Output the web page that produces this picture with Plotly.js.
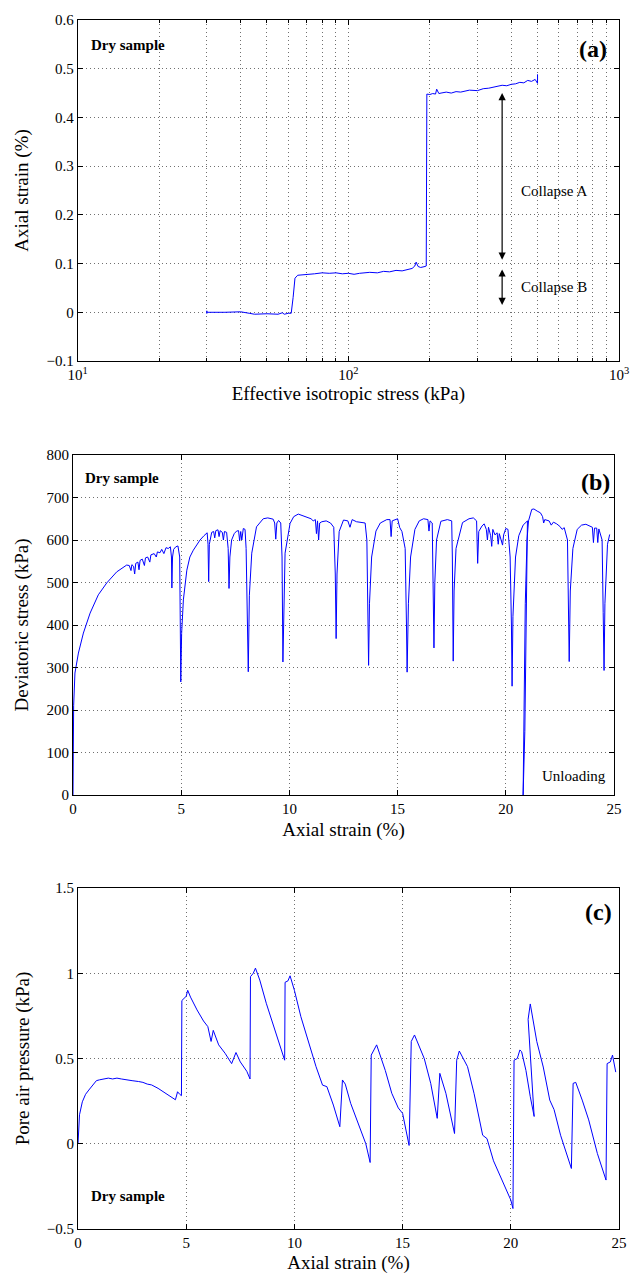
<!DOCTYPE html>
<html>
<head>
<meta charset="utf-8">
<script src="https://cdn.plot.ly/plotly-3.0.1.min.js"></script>
<style>html,body{margin:0;padding:0;background:#fff;}#chart{width:637px;height:1274px;}</style>
</head>
<body>
<div id="chart"></div>
<script>
// ---------------- DATA ----------------
// Panel (a): effective isotropic stress (kPa) vs axial strain (%)
const stressA = [30, 30, 30, 35, 40, 43, 45, 50, 55, 57, 58, 60, 61.5, 62.5, 63.5, 65, 70, 75, 80, 85, 90, 95, 100, 105, 110, 120, 128, 135, 142, 150, 158, 165, 172, 176, 178, 181, 185, 192, 194, 195, 200, 205, 210, 212, 216, 220, 230, 240, 250, 260, 280, 300, 315, 330, 350, 370, 385, 400, 415, 430, 445, 460, 475, 490, 500, 500, 500];
const strainA = [-0.003, 0.003, 0, 0, 0.001, -0.002, -0.004, -0.003, -0.004, -0.001, -0.004, -0.002, -0.002, 0.03, 0.07, 0.076, 0.077, 0.079, 0.081, 0.080, 0.081, 0.079, 0.080, 0.078, 0.080, 0.082, 0.081, 0.084, 0.083, 0.086, 0.085, 0.088, 0.090, 0.095, 0.103, 0.094, 0.092, 0.094, 0.095, 0.448, 0.447, 0.449, 0.448, 0.458, 0.449, 0.450, 0.452, 0.450, 0.453, 0.452, 0.456, 0.455, 0.459, 0.460, 0.463, 0.466, 0.465, 0.468, 0.469, 0.472, 0.471, 0.476, 0.474, 0.478, 0.470, 0.488, 0.477];

// Panel (b): axial strain (%) vs deviatoric stress (kPa)
const strainB = [0, 0.01, 0.03, 0.09, 0.25, 0.48, 0.79, 1.17, 1.56, 2.02, 2.3, 2.48, 2.6, 2.68, 2.72, 2.8, 2.85, 2.9, 3.0, 3.05, 3.1, 3.2, 3.3, 3.35, 3.45, 3.55, 3.6, 3.75, 3.85, 3.9, 4.02, 4.1, 4.2, 4.3, 4.4, 4.5, 4.55, 4.57, 4.6, 4.65, 4.75, 4.85, 4.93, 4.96, 4.98, 5.02, 5.1, 5.26, 5.4, 5.56, 5.87, 6.05, 6.2, 6.24, 6.27, 6.3, 6.41, 6.5, 6.55, 6.6, 6.7, 6.75, 6.8, 6.9, 6.95, 7.0, 7.1, 7.17, 7.21, 7.25, 7.33, 7.45, 7.56, 7.65, 7.7, 7.75, 7.8, 7.87, 7.95, 8.0, 8.05, 8.1, 8.15, 8.26, 8.48, 8.79, 9.0, 9.25, 9.32, 9.37, 9.42, 9.5, 9.6, 9.66, 9.7, 9.75, 9.8, 10.03, 10.2, 10.41, 10.6, 10.8, 11.0, 11.1, 11.2, 11.25, 11.3, 11.35, 11.4, 11.5, 11.7, 11.9, 12.05, 12.12, 12.16, 12.2, 12.3, 12.5, 12.7, 12.8, 12.9, 13.1, 13.3, 13.5, 13.58, 13.63, 13.66, 13.7, 13.8, 14.0, 14.2, 14.5, 14.65, 14.7, 14.75, 15.0, 15.05, 15.1, 15.2, 15.35, 15.41, 15.44, 15.5, 15.6, 15.8, 16.0, 16.2, 16.4, 16.45, 16.5, 16.6, 16.65, 16.68, 16.72, 16.8, 17.0, 17.3, 17.5, 17.53, 17.57, 17.61, 17.7, 18.0, 18.3, 18.5, 18.65, 18.7, 18.75, 18.9, 19.0, 19.1, 19.15, 19.2, 19.3, 19.35, 19.4, 19.5, 19.6, 19.65, 19.7, 19.8, 19.85, 19.9, 20.0, 20.1, 20.2, 20.26, 20.29, 20.33, 20.45, 20.6, 20.8, 21.0, 20.95, 20.88, 20.8, 20.84, 20.9, 20.98, 21.05, 21.2, 21.3, 21.45, 21.6, 21.7, 21.75, 21.8, 22.0, 22.1, 22.2, 22.35, 22.5, 22.6, 22.7, 22.85, 22.9, 22.93, 22.98, 23.1, 23.3, 23.5, 23.7, 23.9, 24.0, 24.05, 24.1, 24.2, 24.25, 24.3, 24.45, 24.5, 24.54, 24.58, 24.7, 24.8];
const devB = [0, 150, 210, 287, 334, 381, 428, 471, 499, 525, 535, 541, 540, 528, 542, 538, 520, 545, 548, 530, 552, 555, 540, 558, 560, 548, 565, 568, 560, 572, 570, 578, 568, 582, 580, 584, 560, 487, 560, 578, 584, 586, 560, 400, 266, 380, 459, 529, 560, 576, 600, 610, 617, 590, 502, 590, 618, 620, 605, 622, 624, 608, 622, 618, 600, 620, 618, 580, 486, 560, 600, 615, 621, 622, 598, 620, 600, 627, 625, 580, 450, 290, 470, 569, 631, 650, 652, 649, 640, 602, 640, 646, 640, 560, 313, 480, 569, 639, 655, 661, 658, 653, 650, 645, 648, 615, 645, 600, 640, 643, 645, 640, 630, 520, 368, 520, 620, 647, 645, 630, 648, 643, 642, 640, 600, 420, 305, 450, 560, 621, 640, 648, 648, 608, 645, 650, 635, 629, 620, 580, 400, 289, 450, 560, 625, 645, 650, 648, 621, 645, 640, 500, 346, 500, 600, 644, 648, 645, 560, 315, 480, 580, 641, 650, 652, 645, 545, 620, 633, 638, 625, 600, 630, 610, 585, 625, 612, 617, 590, 615, 600, 588, 612, 627, 625, 560, 400, 256, 420, 560, 610, 635, 645, 400, 150, 0, 200, 450, 600, 645, 672, 673, 668, 664, 655, 640, 648, 645, 635, 642, 638, 632, 625, 629, 600, 450, 314, 480, 580, 625, 635, 637, 632, 630, 594, 628, 628, 594, 626, 600, 430, 293, 450, 590, 613];

// Panel (c): axial strain (%) vs pore air pressure (kPa)
const strainC = [0, 0.03, 0.07, 0.2, 0.35, 0.5, 0.7, 0.85, 1.0, 1.2, 1.4, 1.6, 1.8, 2.0, 2.2, 2.5, 2.8, 3.0, 3.2, 3.4, 3.7, 4.0, 4.2, 4.4, 4.5, 4.55, 4.6, 4.7, 4.78, 4.8, 4.9, 5.0, 5.07, 5.2, 5.5, 5.8, 6.0, 6.15, 6.25, 6.5, 6.8, 7.1, 7.3, 7.5, 7.8, 7.95, 7.97, 8.1, 8.2, 8.4, 8.7, 9.0, 9.3, 9.55, 9.57, 9.7, 9.8, 10.0, 10.3, 10.7, 11.0, 11.3, 11.5, 11.8, 12.1, 12.22, 12.35, 12.6, 13.0, 13.3, 13.5, 13.55, 13.8, 14.2, 14.5, 14.8, 15.0, 15.3, 15.4, 15.55, 16.0, 16.3, 16.6, 16.72, 17.0, 17.4, 17.5, 17.62, 18.0, 18.3, 18.7, 18.9, 19.2, 19.6, 20.0, 20.1, 20.15, 20.3, 20.42, 20.5, 20.7, 20.9, 21.08, 20.8, 20.9, 21.2, 21.5, 21.8, 22.0, 22.3, 22.8, 22.88, 23.0, 23.3, 23.6, 24.0, 24.4, 24.45, 24.6, 24.7, 24.85];
const pressC = [0, 0.1, 0.17, 0.246, 0.29, 0.315, 0.35, 0.37, 0.375, 0.38, 0.385, 0.38, 0.385, 0.38, 0.375, 0.37, 0.365, 0.36, 0.35, 0.345, 0.325, 0.3, 0.285, 0.27, 0.258, 0.28, 0.305, 0.29, 0.282, 0.84, 0.85, 0.865, 0.9, 0.86, 0.785, 0.72, 0.687, 0.6, 0.665, 0.58, 0.53, 0.47, 0.535, 0.48, 0.425, 0.38, 0.98, 1.0, 1.03, 0.96, 0.824, 0.706, 0.589, 0.49, 0.947, 0.955, 0.985, 0.9, 0.745, 0.57, 0.452, 0.344, 0.335, 0.227, 0.1, 0.374, 0.35, 0.237, 0.1, 0.0, -0.11, 0.52, 0.58, 0.43, 0.296, 0.21, 0.178, -0.01, 0.6, 0.638, 0.5, 0.354, 0.149, 0.413, 0.296, 0.06, 0.49, 0.544, 0.452, 0.296, 0.05, 0.03, -0.1, -0.213, -0.33, -0.38, 0.49, 0.5, 0.55, 0.54, 0.43, 0.276, 0.16, 0.73, 0.82, 0.6, 0.45, 0.256, 0.2, 0.05, -0.145, 0.354, 0.36, 0.256, 0.14, -0.057, -0.213, 0.47, 0.48, 0.52, 0.42];

// Tick labels
const logTickVals = [10, 100, 1000];
const logTickText = ['10<sup>1</sup>', '10<sup>2</sup>', '10<sup>3</sup>'];
const logMinorVals = [20, 30, 40, 50, 60, 70, 80, 90, 200, 300, 400, 500, 600, 700, 800, 900];

// ---------------- LAYOUT ----------------
const W = 637, H = 1274;
const boxA = {l: 77.7, r: 619, t: 20, b: 361};
const boxB = {l: 73, r: 614, t: 455, b: 795};
const boxC = {l: 78, r: 619, t: 888, b: 1229};
const FONT = 'Liberation Serif';
const BLUE = 'rgb(0,0,255)';
const GRID = '#707070';
const DASH = '1px,3px';

function xd(b) { return [b.l / W, b.r / W]; }
function yd(b) { return [1 - b.b / H, 1 - b.t / H]; }
function px(x) { return x / W; }
function py(y) { return 1 - y / H; }

function axis(extra) {
  return Object.assign({
    showline: true, linecolor: 'black', linewidth: 1, mirror: 'ticks',
    ticks: 'inside', ticklen: 5, tickcolor: 'black', tickwidth: 1,
    showgrid: true, gridcolor: GRID, griddash: DASH, gridwidth: 1,
    zeroline: false, fixedrange: true,
    tickfont: {family: FONT, size: 15, color: 'black'}
  }, extra);
}
function ttl(text, standoff) {
  return {text: text, standoff: standoff, font: {family: FONT, size: 19, color: 'black'}};
}

const traces = [
  {x: stressA, y: strainA, xaxis: 'x', yaxis: 'y', type: 'scatter', mode: 'lines', line: {color: BLUE, width: 1}},
  {x: strainB, y: devB, xaxis: 'x2', yaxis: 'y2', type: 'scatter', mode: 'lines', line: {color: BLUE, width: 1}},
  {x: strainC, y: pressC, xaxis: 'x3', yaxis: 'y3', type: 'scatter', mode: 'lines', line: {color: BLUE, width: 1}}
];

const arrowX = Math.log10(370);
function lab(text, x, y, size, bold, anchor) {
  return {text: bold ? '<b>' + text + '</b>' : text, xref: 'paper', yref: 'paper', x: px(x), y: py(y),
    xanchor: anchor || 'left', yanchor: 'middle', showarrow: false,
    font: {family: FONT, size: size, color: 'black'}};
}

const layout = {
  width: W, height: H, showlegend: false,
  paper_bgcolor: 'white', plot_bgcolor: 'white',
  font: {family: FONT, color: 'black'},
  margin: {l: 0, r: 0, t: 0, b: 0},
  xaxis: axis({domain: xd(boxA), anchor: 'y', type: 'log', range: [1, 3], tickmode: 'array', tickvals: logTickVals, ticktext: logTickText,
    minor: {tickmode: 'array', tickvals: logMinorVals, showgrid: true, gridcolor: GRID, griddash: DASH, gridwidth: 1, ticks: 'inside', ticklen: 3, tickcolor: 'black'},
    title: ttl('Effective isotropic stress (kPa)', 4)}),
  yaxis: axis({domain: yd(boxA), anchor: 'x', range: [-0.1, 0.6], tick0: 0, dtick: 0.1, title: ttl('Axial strain (%)', 12)}),
  xaxis2: axis({domain: xd(boxB), anchor: 'y2', range: [0, 25], tick0: 0, dtick: 5, title: ttl('Axial strain (%)', 6)}),
  yaxis2: axis({domain: yd(boxB), anchor: 'x2', range: [0, 800], tick0: 0, dtick: 100, title: ttl('Deviatoric stress (kPa)', 12)}),
  xaxis3: axis({domain: xd(boxC), anchor: 'y3', range: [0, 25], tick0: 0, dtick: 5, title: ttl('Axial strain (%)', 6)}),
  yaxis3: axis({domain: yd(boxC), anchor: 'x3', range: [-0.5, 1.5], tick0: 0, dtick: 0.5, title: ttl('Pore air pressure (kPa)', 12)}),
  annotations: [
    lab('Dry sample', 89, 45, 15, true),
    lab('(a)', 609, 49, 24, true, 'right'),
    lab('Dry sample', 83, 478, 15, true),
    lab('(b)', 612, 482, 24, true, 'right'),
    lab('Unloading', 608, 776, 15, false, 'right'),
    lab('Dry sample', 89, 1196, 15, true),
    lab('(c)', 614, 912, 24, true, 'right'),
    {xref: 'x', yref: 'y', x: arrowX, y: 0.45, ax: arrowX, ay: 0.105, axref: 'x', ayref: 'y', text: '', showarrow: true,
      arrowhead: 2, arrowside: 'end+start', arrowsize: 1.2, arrowwidth: 1.2, arrowcolor: 'black'},
    {xref: 'x', yref: 'y', x: arrowX, y: 0.088, ax: arrowX, ay: 0.012, axref: 'x', ayref: 'y', text: '', showarrow: true,
      arrowhead: 2, arrowside: 'end+start', arrowsize: 1.2, arrowwidth: 1.2, arrowcolor: 'black'},
    {xref: 'x', yref: 'y', x: Math.log10(428), y: 0.249, text: 'Collapse A', showarrow: false, xanchor: 'left', yanchor: 'middle',
      font: {family: FONT, size: 15, color: 'black'}},
    {xref: 'x', yref: 'y', x: Math.log10(428), y: 0.051, text: 'Collapse B', showarrow: false, xanchor: 'left', yanchor: 'middle',
      font: {family: FONT, size: 15, color: 'black'}}
  ]
};

Plotly.newPlot('chart', traces, layout, {staticPlot: true, displayModeBar: false});
</script>
</body>
</html>
